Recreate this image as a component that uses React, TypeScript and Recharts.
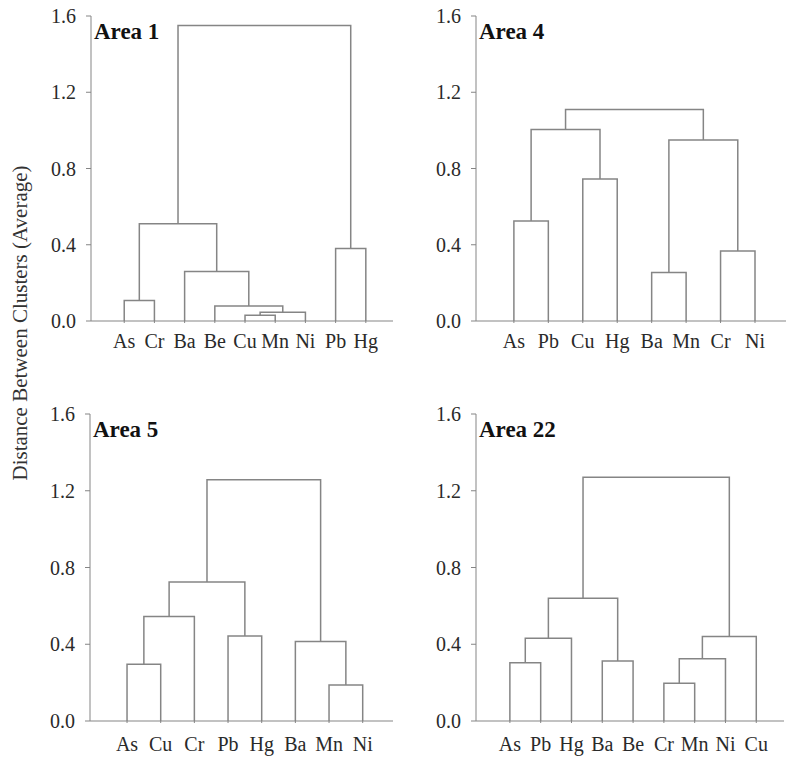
import { LineChart, Line, XAxis, YAxis } from "recharts";

type Merge = [number, number, number];

// leaf order as drawn, merges as [childA, childB, height]; node ids: leaves 0..n-1, then merges n..
const AREA1_LEAVES = ["As", "Cr", "Ba", "Be", "Cu", "Mn", "Ni", "Pb", "Hg"];
const AREA1_MERGES: Merge[] = [
  [4, 5, 0.03],
  [9, 6, 0.046],
  [3, 10, 0.079],
  [0, 1, 0.107],
  [2, 11, 0.26],
  [7, 8, 0.38],
  [12, 13, 0.51],
  [15, 14, 1.55],
];

const AREA4_LEAVES = ["As", "Pb", "Cu", "Hg", "Ba", "Mn", "Cr", "Ni"];
const AREA4_MERGES: Merge[] = [
  [4, 5, 0.254],
  [6, 7, 0.367],
  [0, 1, 0.525],
  [2, 3, 0.745],
  [8, 9, 0.95],
  [10, 11, 1.005],
  [13, 12, 1.11],
];

const AREA5_LEAVES = ["As", "Cu", "Cr", "Pb", "Hg", "Ba", "Mn", "Ni"];
const AREA5_MERGES: Merge[] = [
  [6, 7, 0.188],
  [0, 1, 0.296],
  [5, 8, 0.414],
  [3, 4, 0.443],
  [9, 2, 0.544],
  [12, 11, 0.725],
  [13, 10, 1.257],
];

const AREA22_LEAVES = ["As", "Pb", "Hg", "Ba", "Be", "Cr", "Mn", "Ni", "Cu"];
const AREA22_MERGES: Merge[] = [
  [5, 6, 0.197],
  [0, 1, 0.304],
  [3, 4, 0.313],
  [9, 7, 0.325],
  [10, 2, 0.431],
  [12, 8, 0.44],
  [13, 11, 0.64],
  [15, 14, 1.27],
];

const Y_TICKS = [0, 0.4, 0.8, 1.2, 1.6];

const FONT = "'Liberation Serif', 'Times New Roman', serif";
const LINE = "#858585";
const TEXT = "#2a2a2a";

// turn merges into the little "n" shaped link paths
function buildLinks(n: number, merges: Merge[]) {
  const xs: number[] = [];
  const hs: number[] = [];
  for (let i = 0; i < n; i++) {
    xs.push(i);
    hs.push(0);
  }
  return merges.map(([a, b, h]) => {
    const seg = [
      { x: xs[a], y: hs[a] },
      { x: xs[a], y: h },
      { x: xs[b], y: h },
      { x: xs[b], y: hs[b] },
    ];
    xs.push((xs[a] + xs[b]) / 2);
    hs.push(h);
    return seg;
  });
}

type PanelProps = {
  title: string;
  leaves: string[];
  merges: Merge[];
  left: number;
  top: number;
  width: number;
  height: number;
  yAxisWidth: number;
  marginTop: number;
  marginRight: number;
  marginBottom: number;
  labelGap: number;
};

function Dendrogram({
  title,
  leaves,
  merges,
  left,
  top,
  width,
  height,
  yAxisWidth,
  marginTop,
  marginRight,
  marginBottom,
  labelGap,
}: PanelProps) {
  const links = buildLinks(leaves.length, merges);
  const leafTicks = leaves.map((_, i) => i);

  return (
    <div style={{ position: "absolute", left, top, width, height }}>
      <LineChart
        width={width}
        height={height}
        margin={{ top: marginTop, right: marginRight, left: 0, bottom: marginBottom }}
      >
        <XAxis
          type="number"
          dataKey="x"
          domain={[-1.1, leaves.length - 0.1]}
          allowDataOverflow
          ticks={leafTicks}
          interval={0}
          tickFormatter={(v: number) => leaves[v] ?? ""}
          stroke={LINE}
          tickSize={2}
          tickMargin={labelGap}
          height={40}
          tick={{ fill: TEXT, fontSize: 20, fontFamily: FONT }}
        />
        <YAxis
          type="number"
          domain={[0, 1.6]}
          ticks={Y_TICKS}
          interval={0}
          tickFormatter={(v: number) => v.toFixed(1)}
          stroke={LINE}
          width={yAxisWidth}
          tickSize={5}
          tickMargin={10}
          tick={{ fill: TEXT, fontSize: 20, fontFamily: FONT }}
        />
        {links.map((seg, i) => (
          <Line
            key={`link-${i}`}
            data={seg}
            dataKey="y"
            type="linear"
            stroke={LINE}
            strokeWidth={1.5}
            dot={false}
            activeDot={false}
            isAnimationActive={false}
          />
        ))}
      </LineChart>
      <div
        style={{
          position: "absolute",
          left: yAxisWidth + 3,
          top: marginTop + 4,
          fontFamily: FONT,
          fontWeight: "bold",
          fontSize: 23,
          lineHeight: "23px",
          color: "#111",
          whiteSpace: "nowrap",
        }}
      >
        {title}
      </div>
    </div>
  );
}

export default function App() {
  return (
    <div
      style={{
        position: "absolute",
        left: 0,
        top: 0,
        width: 788,
        height: 762,
        background: "#fff",
        overflow: "hidden",
      }}
    >
      <Dendrogram
        title="Area 1"
        leaves={AREA1_LEAVES}
        merges={AREA1_MERGES}
        left={0}
        top={0}
        width={400}
        height={381}
        yAxisWidth={91}
        marginTop={16}
        marginRight={7}
        marginBottom={20}
        labelGap={11}
      />
      <Dendrogram
        title="Area 4"
        leaves={AREA4_LEAVES}
        merges={AREA4_MERGES}
        left={394}
        top={0}
        width={394}
        height={381}
        yAxisWidth={82}
        marginTop={16}
        marginRight={2}
        marginBottom={20}
        labelGap={11}
      />
      <Dendrogram
        title="Area 5"
        leaves={AREA5_LEAVES}
        merges={AREA5_MERGES}
        left={0}
        top={381}
        width={400}
        height={381}
        yAxisWidth={90}
        marginTop={33}
        marginRight={7}
        marginBottom={1}
        labelGap={14}
      />
      <Dendrogram
        title="Area 22"
        leaves={AREA22_LEAVES}
        merges={AREA22_MERGES}
        left={394}
        top={381}
        width={394}
        height={381}
        yAxisWidth={82}
        marginTop={33}
        marginRight={4}
        marginBottom={1}
        labelGap={14}
      />
      <div
        style={{
          position: "absolute",
          left: 20,
          top: 323,
          transform: "translate(-50%, -50%) rotate(-90deg)",
          fontFamily: FONT,
          fontSize: 21,
          color: "#333",
          whiteSpace: "nowrap",
        }}
      >
        Distance Between Clusters (Average)
      </div>
    </div>
  );
}
